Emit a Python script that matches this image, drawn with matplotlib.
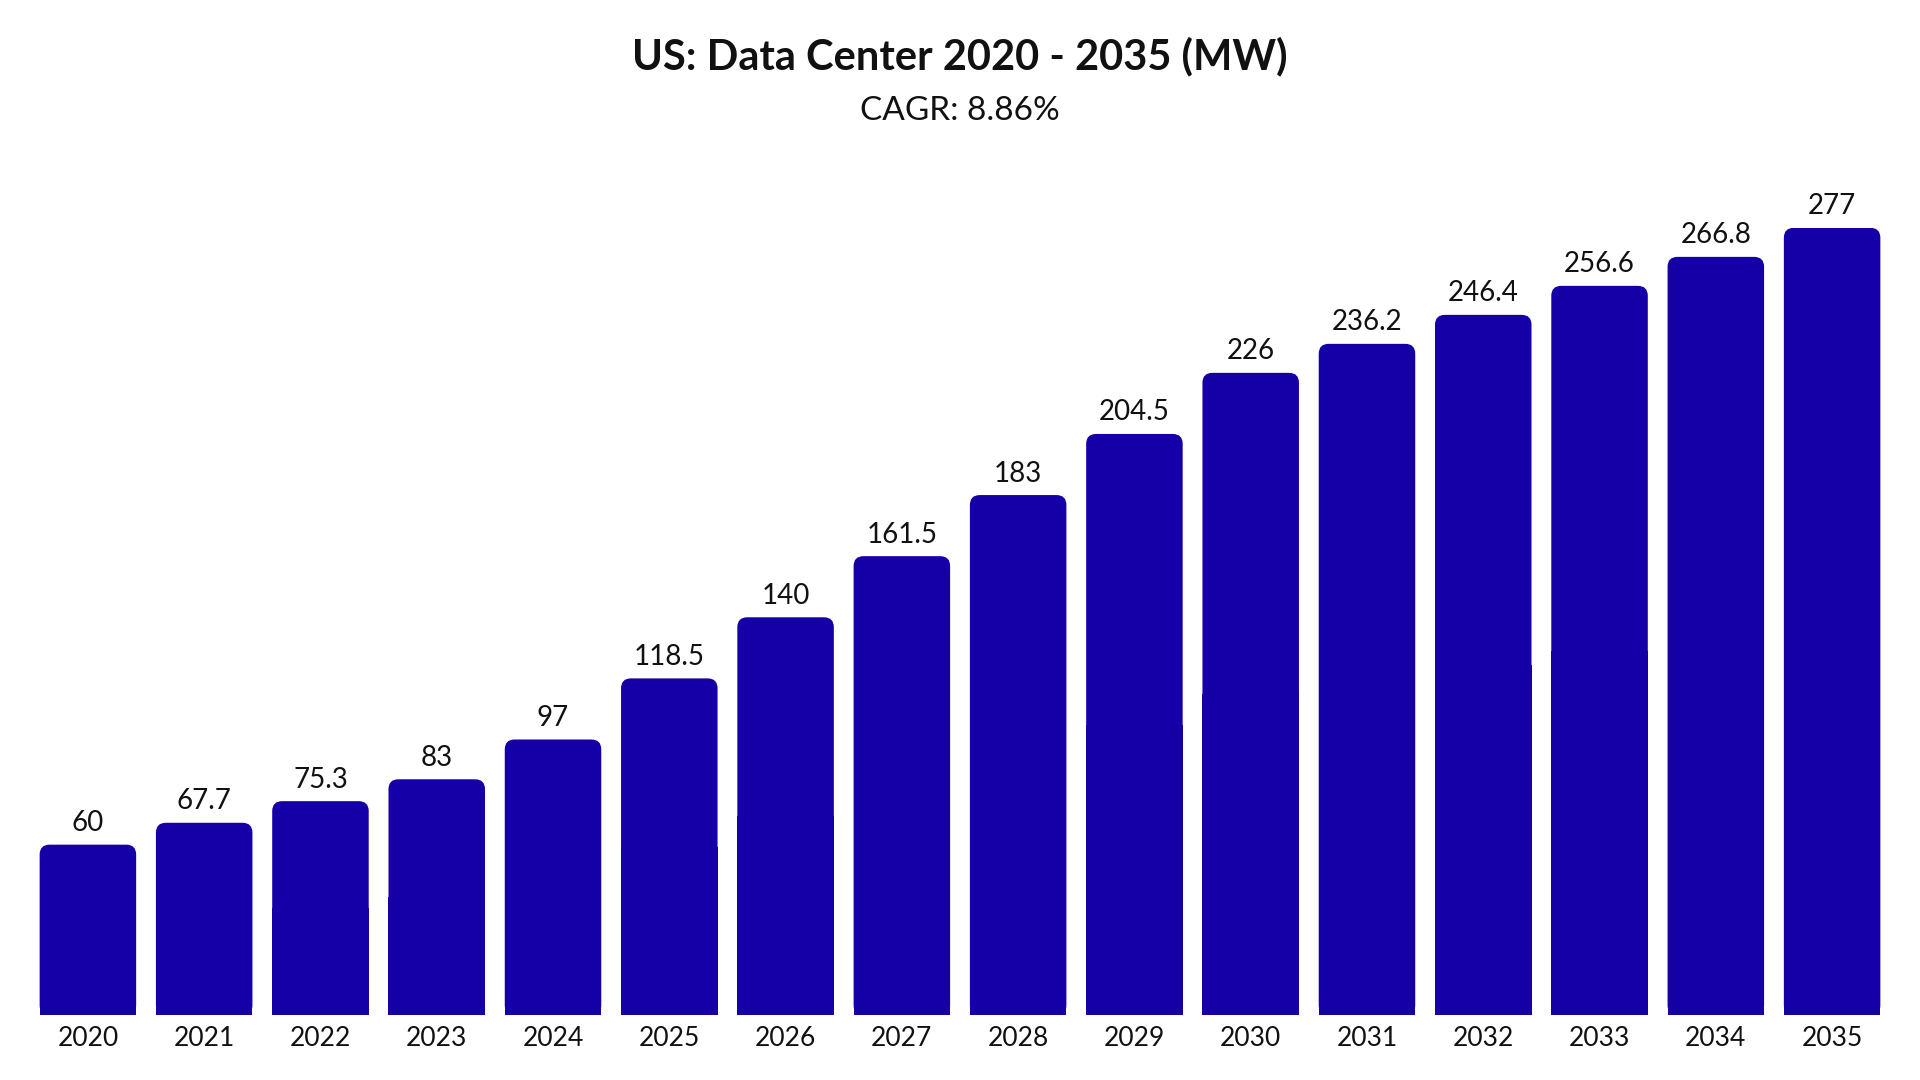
import matplotlib
matplotlib.use("Agg")
import matplotlib.pyplot as plt
from matplotlib.patches import FancyBboxPatch, Rectangle

years = [str(y) for y in range(2020, 2036)]
values = [60, 67.7, 75.3, 83, 97, 118.5, 140, 161.5, 183, 204.5, 226, 236.2, 246.4, 256.6, 266.8, 277]
labels = ['60', '67.7', '75.3', '83', '97', '118.5', '140', '161.5', '183', '204.5',
          '226', '236.2', '246.4', '256.6', '266.8', '277']

plt.rcParams['font.family'] = ['Lato', 'DejaVu Sans']
color = '#1500a8'

fig = plt.figure(figsize=(19.2, 10.8), dpi=100)
ax = fig.add_axes([0.0155, 0.06, 0.969, 0.729])

w = 0.83
r = 0.085
asp = 41
for i, v in enumerate(values):
    x0 = i - w / 2
    # rounded top, square bottom
    ax.add_patch(FancyBboxPatch((x0 + r, r * asp), w - 2 * r, v - 2 * r * asp,
                                boxstyle="round,pad=%f" % r, mutation_aspect=asp,
                                fc=color, ec='none'))
    ax.add_patch(Rectangle((x0, 0), w, v / 2, fc=color, ec='none'))
    ax.text(i, v + 3, labels[i], ha='center', va='bottom', fontsize=20, color='#111111')

ax.set_xlim(-0.5, len(values) - 0.5)
ax.set_ylim(0, 277)
ax.set_xticks(range(len(years)))
ax.set_xticklabels(years, fontsize=19, color='#111111')
ax.tick_params(axis='x', length=0, pad=8)
ax.set_yticks([])
for s in ax.spines.values():
    s.set_visible(False)

fig.text(0.5, 0.948, 'US: Data Center 2020 - 2035 (MW)', ha='center', va='center',
         fontsize=30, fontweight='bold', color='#111111')
fig.text(0.5, 0.897, 'CAGR: 8.86%', ha='center', va='center', fontsize=24, color='#111111')

fig.savefig('out.png')
